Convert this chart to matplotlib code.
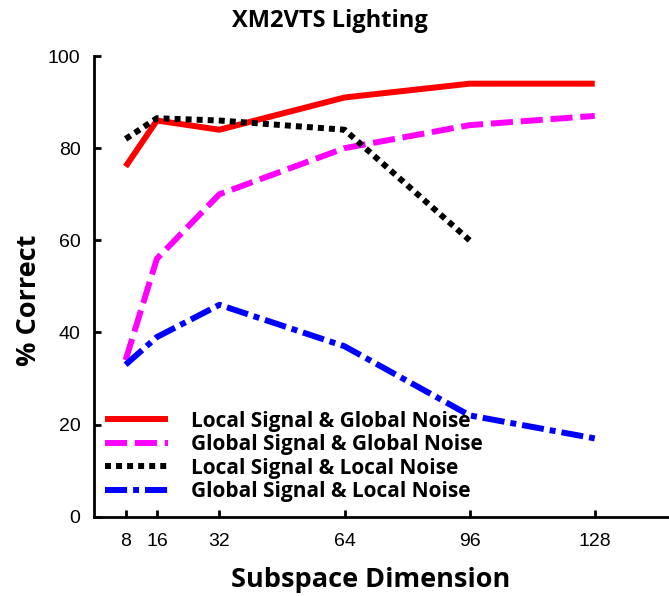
import matplotlib.pyplot as plt

dims = [8, 16, 32, 64, 96, 128]
local_global = [76, 86, 84, 91, 94, 94]
global_global = [34, 56, 70, 80, 85, 87]
local_local = [82, 86.5, 86, 84, 60]
global_local = [33, 39, 46, 37, 22, 17]

labels = ['Local Signal & Global Noise', 'Global Signal & Global Noise',
          'Local Signal & Local Noise', 'Global Signal & Local Noise']

bold_font = 'Open Sans'
tick_font = 'Liberation Sans'

fig = plt.figure(figsize=(6.69, 5.96), dpi=100)
ax = fig.add_axes([0.141, 0.133, 0.859, 0.773])

lw = 4.3
ax.plot(dims, local_global, color='#ff0000', lw=lw, solid_capstyle='butt')
ax.plot(dims, global_global, color='#ff00ff', lw=lw, dashes=(3.7, 1.3))
ax.plot(dims[:5], local_local, color='black', lw=lw, dashes=(1, 0.85))
ax.plot(dims, global_local, color='#0000ff', lw=lw, dashes=(3.7, 1.0, 1.0, 1.0))

ax.set_xlim(0, 147)
ax.set_ylim(0, 100)
ax.set_xticks(dims)
ax.set_yticks([0, 20, 40, 60, 80, 100])
ax.tick_params(direction='in', length=5, width=2, labelsize=14)
ax.tick_params(axis='x', pad=12)
ax.tick_params(axis='y', pad=10)
for lab in ax.get_xticklabels() + ax.get_yticklabels():
    lab.set_fontfamily(tick_font)

for side in ['top', 'right']:
    ax.spines[side].set_visible(False)
for side in ['left', 'bottom']:
    ax.spines[side].set_linewidth(2)

ax.set_xlabel('Subspace Dimension', fontsize=19.5, fontweight='bold',
              fontfamily=bold_font)
ax.xaxis.set_label_coords(0.481, -0.109)
ax.set_ylabel('% Correct', fontsize=19.5, fontweight='bold',
              fontfamily=bold_font, labelpad=4)
ax.yaxis.label.set_y(0.47)
ax.set_title('XM2VTS Lighting', fontsize=17, fontweight='bold',
             fontfamily=bold_font, pad=21, x=0.41)

leg = ax.legend(labels, loc='lower left', bbox_to_anchor=(-0.006, 0.0),
                frameon=False, handlelength=3.0, handletextpad=1.1,
                labelspacing=0.12, borderaxespad=0.3,
                prop={'family': bold_font, 'weight': 'bold', 'size': 15})

fig.savefig('out.png', dpi=100)
